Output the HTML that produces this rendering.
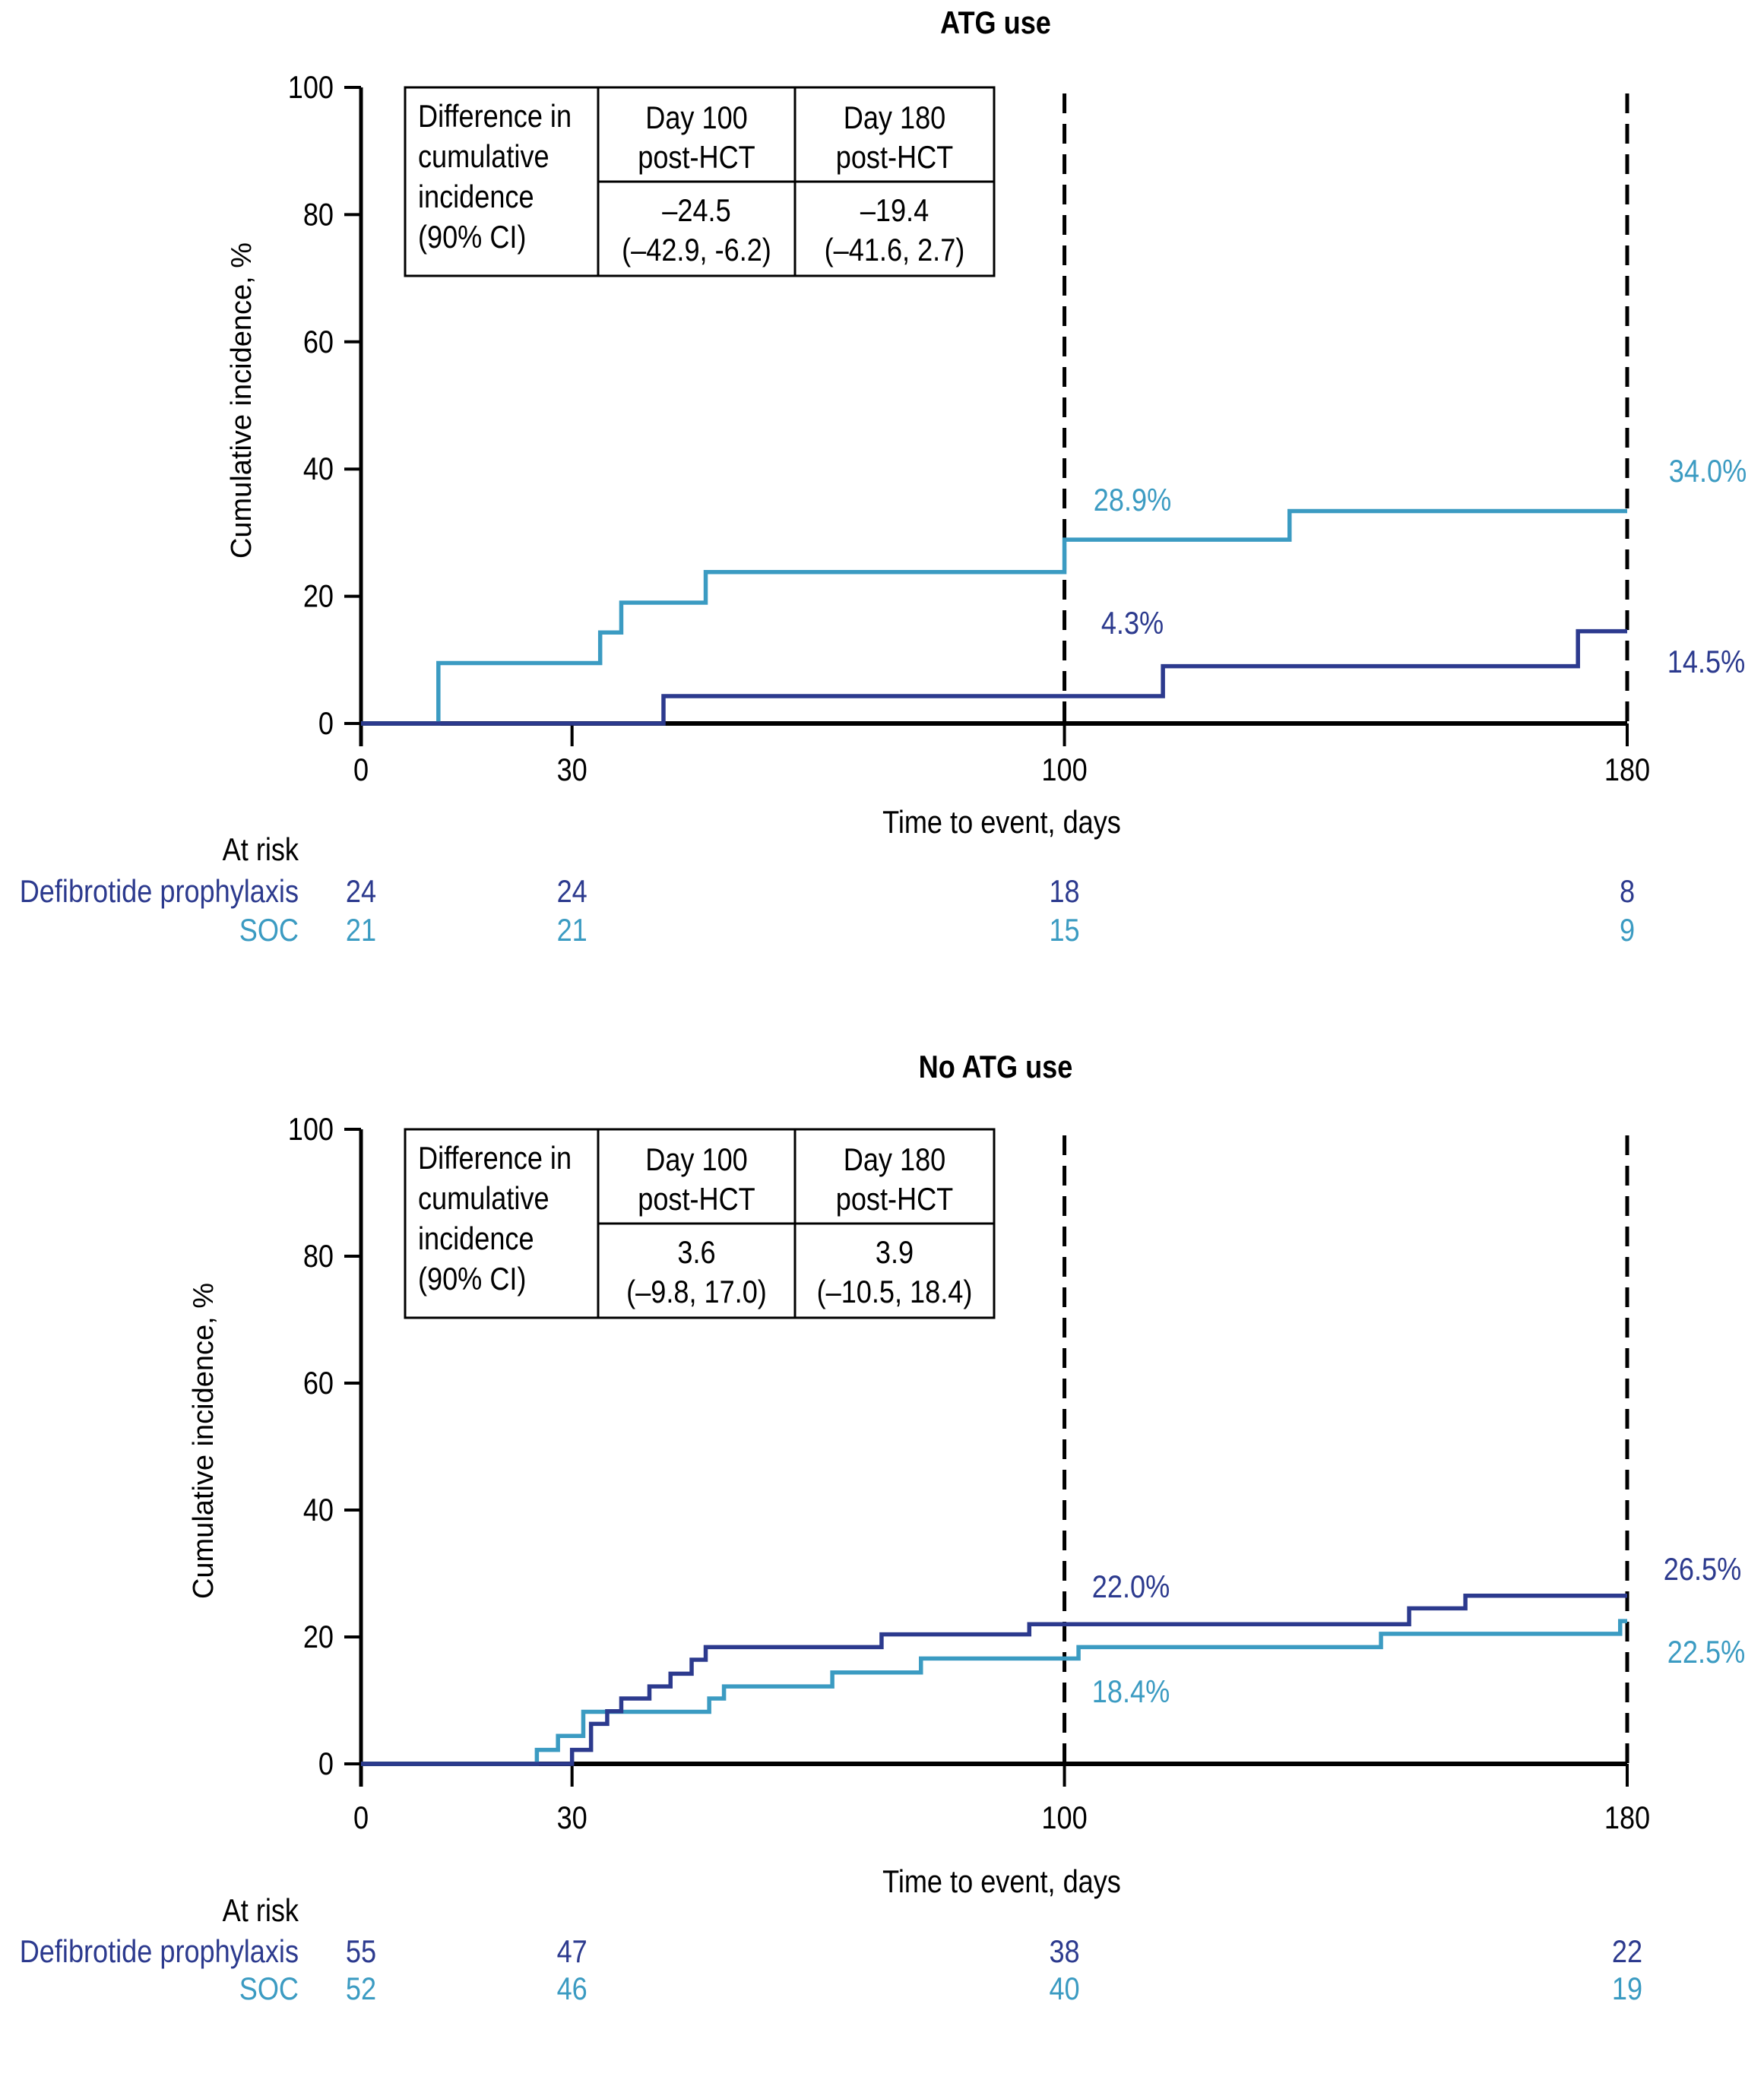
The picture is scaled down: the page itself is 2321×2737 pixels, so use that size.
<!DOCTYPE html>
<html><head><meta charset="utf-8">
<style>
body{margin:0;background:#fff;}
svg{display:block;}
text{font-family:"Liberation Sans",sans-serif;}
</style></head>
<body>
<svg id="fig" width="2321" height="2737" viewBox="0 0 2321 2737" xmlns="http://www.w3.org/2000/svg"></svg>
<script>
// ---- Data ----
const xTicks = [0, 30, 100, 180];
const yTicks = [0, 20, 40, 60, 80, 100];
// Panel A: ATG use
const atgDefibDays = [0, 43, 114, 173, 180];
const atgDefibVals = [0, 4.3, 9.0, 14.5, 14.5];
const atgSocDays = [0, 11, 34, 37, 49, 100, 132, 180];
const atgSocVals = [0, 9.5, 14.3, 19.0, 23.8, 28.9, 33.4, 33.4];
const atgRiskDefib = [24, 24, 18, 8];
const atgRiskSoc = [21, 21, 15, 9];
// Panel B: No ATG use
const noDefibDays = [0, 30, 32.7, 35, 37, 41, 44, 47, 49, 74, 95, 149, 157, 180];
const noDefibVals = [0, 2.2, 6.3, 8.3, 10.3, 12.2, 14.2, 16.4, 18.4, 20.4, 22.0, 24.5, 26.5, 26.5];
const noSocDays = [0, 25, 28, 31.6, 49.5, 51.6, 67, 79.6, 102, 145, 179, 180];
const noSocVals = [0, 2.2, 4.4, 8.2, 10.3, 12.2, 14.4, 16.6, 18.4, 20.5, 22.5, 22.5];
const noRiskDefib = [55, 47, 38, 22];
const noRiskSoc = [52, 46, 40, 19];

const DARK = "#2c3a8e", LIGHT = "#3b9bc2";
const NS = "http://www.w3.org/2000/svg";
const SX = 0.86;
const svg = document.getElementById('fig');
function el(tag, attrs, parent, txt){
  const e = document.createElementNS(NS, tag);
  for (const k in attrs) e.setAttribute(k, attrs[k]);
  if (txt !== undefined) e.textContent = txt;
  (parent || svg).appendChild(e);
  return e;
}
function tx(attrs, parent, txt){
  const e = el('text', attrs, parent, txt);
  const x = +attrs.x;
  e.setAttribute('transform', `translate(${x},0) scale(${SX},1) translate(${-x},0)`);
  return e;
}

function panel(cfg){
  const g = el('g', {});
  
  
  const X0 = 475, X1 = 2141;
  const yBase = cfg.y0, yTop = cfg.y0 - cfg.h;
  const xs = d => X0 + d / 180 * (X1 - X0);
  const ys = v => yBase - v / 100 * (yBase - yTop);

  let t = tx({x:1310, y:cfg.titleY, 'text-anchor':'middle', 'font-size':42, 'font-weight':'bold'}, g, cfg.title);
  
  

  t = el('text', {x:0, y:0, 'text-anchor':'middle', 'font-size':38, transform:`translate(${cfg.yTitleX},${yBase-425}) rotate(-90)`}, g, 'Cumulative incidence, %');
  
  

  let a = el('line', {x1:X0, y1:yTop, x2:X0, y2:yBase+30, stroke:'#000', 'stroke-width':5}, g);
  
  
  a = el('line', {x1:X0, y1:yBase, x2:X1, y2:yBase, stroke:'#000', 'stroke-width':6}, g);
  
  

  yTicks.forEach(v => {
    const tk = el('line', {x1:X0-22, y1:ys(v), x2:X0, y2:ys(v), stroke:'#000', 'stroke-width':4}, g);
    
    
    const lb = tx({x:X0-36, y:ys(v)+14, 'text-anchor':'end', 'font-size':42}, g, String(v));
    
    
  });
  xTicks.forEach(d => {
    const tk = el('line', {x1:xs(d), y1:yBase, x2:xs(d), y2:yBase+30, stroke:'#000', 'stroke-width':4}, g);
    
    
    const lb = tx({x:xs(d), y:cfg.xTickY, 'text-anchor':'middle', 'font-size':42}, g, String(d));
    
    
  });
  t = tx({x:1318, y:cfg.xTitleY, 'text-anchor':'middle', 'font-size':42}, g, 'Time to event, days');
  
  

  [100, 180].forEach(d => {
    const l = el('line', {x1:xs(d), y1:yTop+8, x2:xs(d), y2:yBase, stroke:'#000', 'stroke-width':5, 'stroke-dasharray':'26,14'}, g);
    
    
  });

  function step(days, vals, color, name){
    let d = `M${xs(days[0])},${ys(vals[0])}`;
    for (let i = 1; i < days.length; i++){
      d += ` H${xs(days[i])} V${ys(vals[i])}`;
    }
    const p = el('path', {d, fill:'none', stroke:color, 'stroke-width':5.5}, g);
    
    
  }
  step(cfg.socDays, cfg.socVals, LIGHT, 'soc-curve');
  step(cfg.defDays, cfg.defVals, DARK, 'defibrotide-curve');

  cfg.pctLabels.forEach(p => {
    const lb = tx({x:p[0], y:p[1]+14, 'text-anchor':'middle', 'font-size':42, fill:p[3]}, g, p[2]);
    
    
  });

  const tg = el('g', {}, g);
  
  
  const tx0 = 533, tx1 = 787, tx2 = 1046, tx3 = 1308;
  const ty0 = yTop, ty1 = yTop + 124, ty2 = yTop + 248;
  el('rect', {x:tx0, y:ty0, width:tx3-tx0, height:ty2-ty0, fill:'#fff', stroke:'#000', 'stroke-width':3}, tg);
  el('line', {x1:tx1, y1:ty0, x2:tx1, y2:ty2, stroke:'#000', 'stroke-width':3}, tg);
  el('line', {x1:tx2, y1:ty0, x2:tx2, y2:ty2, stroke:'#000', 'stroke-width':3}, tg);
  el('line', {x1:tx1, y1:ty1, x2:tx3, y2:ty1, stroke:'#000', 'stroke-width':3}, tg);
  const lh = 53;
  ['Difference in','cumulative','incidence','(90% CI)'].forEach((s,i) =>
    tx({x:tx0+17, y:ty0+52+i*lh, 'font-size':42}, tg, s));
  const c1 = (tx1+tx2)/2, c2 = (tx2+tx3)/2;
  const hm = (ty0+ty1)/2, vm = (ty1+ty2)/2;
  tx({x:c1, y:hm-8, 'text-anchor':'middle', 'font-size':42}, tg, 'Day 100');
  tx({x:c1, y:hm+44, 'text-anchor':'middle', 'font-size':42}, tg, 'post-HCT');
  tx({x:c2, y:hm-8, 'text-anchor':'middle', 'font-size':42}, tg, 'Day 180');
  tx({x:c2, y:hm+44, 'text-anchor':'middle', 'font-size':42}, tg, 'post-HCT');
  tx({x:c1, y:vm-10, 'text-anchor':'middle', 'font-size':42}, tg, cfg.t100[0]);
  tx({x:c1, y:vm+42, 'text-anchor':'middle', 'font-size':42}, tg, cfg.t100[1]);
  tx({x:c2, y:vm-10, 'text-anchor':'middle', 'font-size':42}, tg, cfg.t180[0]);
  tx({x:c2, y:vm+42, 'text-anchor':'middle', 'font-size':42}, tg, cfg.t180[1]);

  const rg = el('g', {}, g);
  
  
  tx({x:393, y:cfg.riskY[0]+14, 'text-anchor':'end', 'font-size':42}, rg, 'At risk');
  tx({x:393, y:cfg.riskY[1]+14, 'text-anchor':'end', 'font-size':42, fill:DARK}, rg, 'Defibrotide prophylaxis');
  tx({x:393, y:cfg.riskY[2]+14, 'text-anchor':'end', 'font-size':42, fill:LIGHT}, rg, 'SOC');
  xTicks.forEach((d,i) => {
    tx({x:xs(d), y:cfg.riskY[1]+14, 'text-anchor':'middle', 'font-size':42, fill:DARK}, rg, String(cfg.riskDef[i]));
    tx({x:xs(d), y:cfg.riskY[2]+14, 'text-anchor':'middle', 'font-size':42, fill:LIGHT}, rg, String(cfg.riskSoc[i]));
  });
}

panel({name:'atg-use-panel', title:'ATG use', titleY:44, y0:952, h:837, yTitleX:330, xTickY:1027, xTitleY:1096,
  defDays:atgDefibDays, defVals:atgDefibVals, socDays:atgSocDays, socVals:atgSocVals,
  pctLabels:[[1490,658,'28.9%',LIGHT],[2247,620,'34.0%',LIGHT],[1490,820,'4.3%',DARK],[2245,871,'14.5%',DARK]],
  t100:['\u201324.5','(\u201342.9, -6.2)'], t180:['\u201319.4','(\u201341.6, 2.7)'],
  riskY:[1118,1173,1224], riskDef:atgRiskDefib, riskSoc:atgRiskSoc});

panel({name:'no-atg-use-panel', title:'No ATG use', titleY:1418, y0:2321, h:835, yTitleX:280, xTickY:2406, xTitleY:2490,
  defDays:noDefibDays, defVals:noDefibVals, socDays:noSocDays, socVals:noSocVals,
  pctLabels:[[1488,2088,'22.0%',DARK],[1488,2226,'18.4%',LIGHT],[2240,2065,'26.5%',DARK],[2245,2174,'22.5%',LIGHT]],
  t100:['3.6','(\u20139.8, 17.0)'], t180:['3.9','(\u201310.5, 18.4)'],
  riskY:[2514,2568,2617], riskDef:noRiskDefib, riskSoc:noRiskSoc});
</script>
</body></html>
